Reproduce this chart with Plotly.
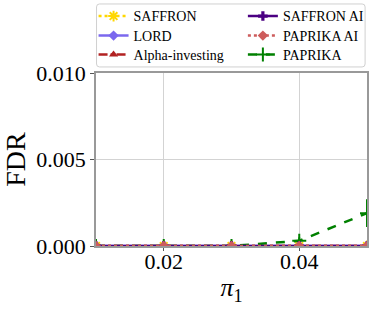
import plotly.graph_objects as go

pi1 = [0.01, 0.02, 0.03, 0.04, 0.05]
saffron = [0, 0, 0, 0, 0]
lord = [0, 0, 0, 0, 0]
alpha_inv = [0, 0, 0, 0, 0]
saffron_ai = [0, 0, 0, 0, 0]
paprika_ai = [0, 0, 0, 0, 0]
paprika = [0, 0, 0, 0.0003, 0.0019]
paprika_err = [0, 0, 0, 0.0002, 0.0008]

FONT = "Liberation Serif"

# name, values, errors, color, dash, symbol, size, legend slot (col, row)
series = [
    ("SAFFRON", saffron, None, "#FFD700", "dot", "asterisk-open", 9, (0, 0)),
    ("LORD", lord, None, "#7B68EE", "solid", "diamond", 8, (0, 1)),
    ("Alpha-investing", alpha_inv, None, "#B22222", "dashdot", "triangle-up", 8, (0, 2)),
    ("PAPRIKA", paprika, paprika_err, "#008000", "dash", "cross-thin-open", 10, (1, 2)),
    ("SAFFRON AI", saffron_ai, None, "#4B0082", "solid", "cross", 8, (1, 0)),
    ("PAPRIKA AI", paprika_ai, None, "#CD5C5C", "dot", "diamond", 8, (1, 1)),
]

col_x = [-0.009, 0.542]
row_y = [1.327, 1.214, 1.104]

fig = go.Figure()
legends = {}
for i, (name, ys, err, color, dash, sym, size, (c, r)) in enumerate(series):
    key = "legend" if i == 0 else f"legend{i + 1}"
    marker = dict(symbol=sym, size=size, color=color,
                  line=dict(color=color, width=2 if "open" in sym else 0))
    tr = go.Scatter(
        x=pi1, y=ys, name=name, mode="lines+markers", legend=key,
        line=dict(color=color, dash=dash, width=2.5),
        marker=marker,
    )
    if err is not None:
        tr.error_y = dict(type="data", array=err, visible=True, color=color,
                          thickness=2, width=0)
    fig.add_trace(tr)
    legends[key] = dict(
        x=col_x[c], y=row_y[r], xanchor="left", yanchor="middle",
        orientation="v", bgcolor="rgba(0,0,0,0)", borderwidth=0,
        font=dict(family=FONT, size=14), itemwidth=30,
    )

x0, x1, y0, y1 = 0.002, 0.993, 1.035, 1.399
rx, ry = 0.011, 0.017
box_path = (
    f"M {x0 + rx},{y0} L {x1 - rx},{y0} Q {x1},{y0} {x1},{y0 + ry} "
    f"L {x1},{y1 - ry} Q {x1},{y1} {x1 - rx},{y1} "
    f"L {x0 + rx},{y1} Q {x0},{y1} {x0},{y1 - ry} "
    f"L {x0},{y0 + ry} Q {x0},{y0} {x0 + rx},{y0} Z"
)

fig.update_layout(
    width=374, height=314,
    margin=dict(l=96, r=7, t=73, b=68, autoexpand=False),
    paper_bgcolor="white", plot_bgcolor="white",
    font=dict(family=FONT, color="black"),
    showlegend=True,
    shapes=[dict(type="path", xref="paper", yref="paper", path=box_path,
                 line=dict(color="#D0D0D0", width=1), fillcolor="white",
                 layer="below")],
    **legends,
)
fig.update_xaxes(
    range=[0.01, 0.05], tickvals=[0.02, 0.04], ticktext=["0.02", "0.04"],
    showgrid=True, gridcolor="#D3D3D3", gridwidth=1,
    showline=True, linecolor="#999999", linewidth=1.5, mirror=True,
    ticks="outside", ticklen=3, tickcolor="#555555",
    tickfont=dict(family=FONT, size=22), ticklabelstandoff=-8,
    title=dict(text="<i>π</i><sub>1</sub>", font=dict(family=FONT, size=26), standoff=5),
    zeroline=False,
)
fig.update_yaxes(
    range=[0, 0.010], tickvals=[0, 0.005, 0.010], ticktext=["0.000", "0.005", "0.010"],
    showgrid=True, gridcolor="#D3D3D3", gridwidth=1,
    showline=True, linecolor="#999999", linewidth=1.5, mirror=True,
    ticks="outside", ticklen=4, tickcolor="#555555",
    tickfont=dict(family=FONT, size=22),
    title=dict(text="FDR", font=dict(family=FONT, size=28), standoff=10),
    zeroline=False,
)
fig.write_html("out.html", config={"displayModeBar": False},
               post_script="document.body.style.margin='0';")
